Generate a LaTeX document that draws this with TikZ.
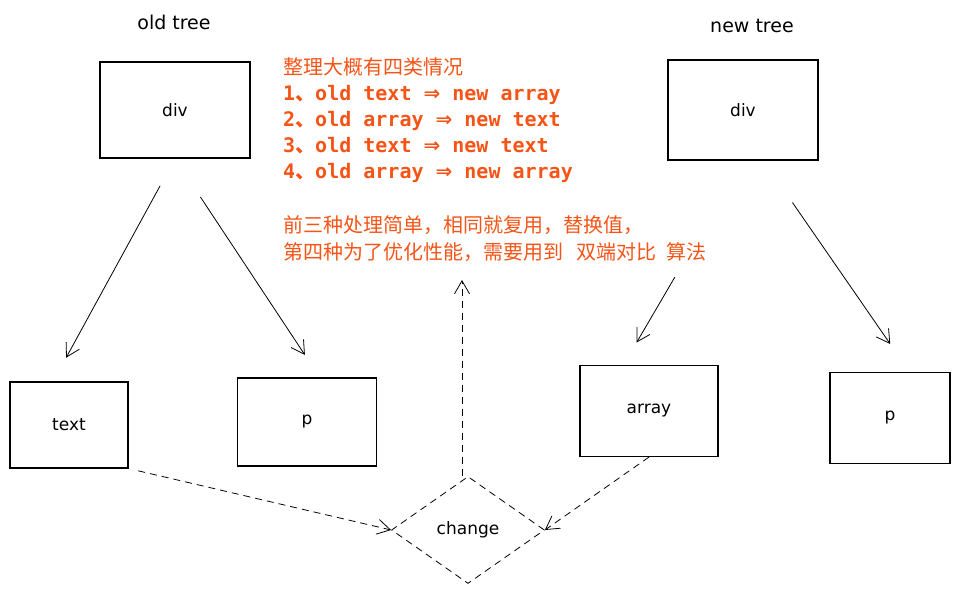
\documentclass[tikz,border=0pt]{standalone}
\usepackage{fontspec}
\usepackage{tikz}
\usetikzlibrary{arrows.meta,positioning,shapes.geometric}
\setmainfont{DejaVu Sans}
\newfontfamily\cjk{Noto Sans CJK SC}
\newfontfamily\codefont{DejaVu Sans Mono}
\newcommand\imply{{\fontspec{DejaVu Sans}\bfseries ⇒}}
\definecolor{NoteOrange}{RGB}{245,84,22}

\begin{document}
\begin{tikzpicture}[x=1pt, y=-1pt,
        box/.style={draw, line width=1.1pt, font=\fontsize{17}{20}\selectfont},
        title/.style={font=\fontsize{19}{20}\selectfont},
        arr/.style={-{Straight Barb[length=13pt, width=15pt]}, line width=0.8pt},
        darr/.style={arr, dash pattern=on 7pt off 5pt}
]
    \useasboundingbox (0,0) rectangle (963,594);
    % trees
    \node[title] (oldlabel) at (174,22) {old tree};
    \node[title] (newlabel) at (752,26) {new tree};
    \node[box, minimum width=150pt, minimum height=96pt] (olddiv) at (175,110) {div};
    \node[box, minimum width=150pt, minimum height=100pt] (newdiv) at (743,110) {div};
    \node[box, minimum width=118pt, minimum height=86pt] (textbox) at (69,425) {text};
    \node[box, minimum width=139pt, minimum height=88pt] (pleft) at (307,422) {p};
    \node[box, minimum width=138pt, minimum height=91pt] (arraybox) at (649,411) {array};
    \node[box, minimum width=120pt, minimum height=91pt] (pright) at (890,418) {p};
    \node[diamond, draw, dash pattern=on 7pt off 5pt, line width=0.8pt, inner sep=0pt,
          minimum width=153pt, minimum height=107pt, font=\fontsize{17}{20}\selectfont]
          (change) at (468,530) {change};
    % notes
    \node[anchor=north west, inner sep=0pt, align=left, text=NoteOrange,
          font=\fontsize{20}{26}\selectfont] (notes) at (283,57) {%
        {\cjk 整理大概有四类情况}\\
        {\codefont\bfseries 1{\cjk 、}old text \imply{} new array}\\
        {\codefont\bfseries 2{\cjk 、}old array \imply{} new text}\\
        {\codefont\bfseries 3{\cjk 、}old text \imply{} new text}\\
        {\codefont\bfseries 4{\cjk 、}old array \imply{} new array}\\[28pt]
        {\cjk 前三种处理简单，相同就复用，替换值，}\\[1pt]
        {\cjk 第四种为了优化性能，需要用到\hspace{13pt}双端对比\hspace{10pt}算法}};
    \coordinate (hint) at (462,280);
    % edges
    \draw[arr, shorten <=31pt, shorten >=27pt] (olddiv.south) -- (textbox.110);
    \draw[arr, shorten <=46pt, shorten >=27pt] (olddiv.south) -- (pleft.74);
    \draw[arr, shorten <=135pt, shorten >=26pt] (newdiv.south) -- (arraybox.119);
    \draw[arr, shorten <=51pt, shorten >=34pt] (newdiv.-68) -- (pright.67);
    \draw[darr, shorten <=10pt] (textbox.south east) -- (change.west);
    \draw[darr] (arraybox.south) -- (change.east);
    \draw[darr] (change.north -| hint) -- (hint);
\end{tikzpicture}
\end{document}
